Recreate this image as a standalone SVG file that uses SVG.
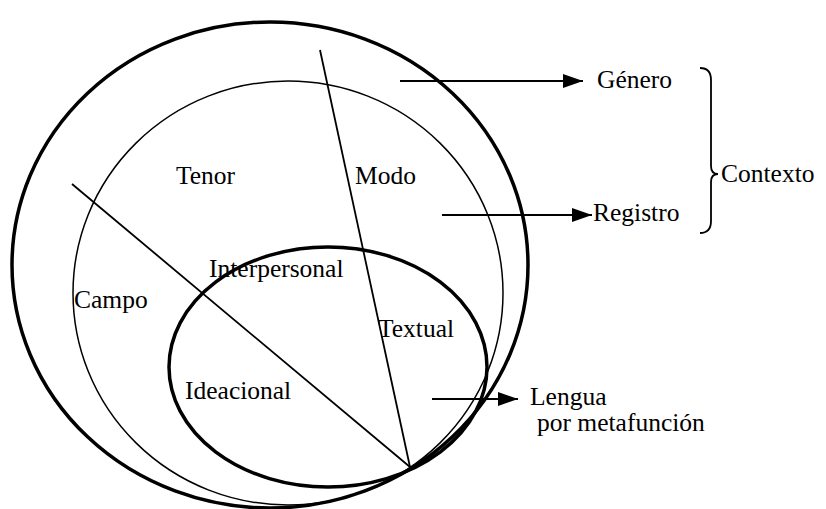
<svg xmlns="http://www.w3.org/2000/svg" width="826" height="509" viewBox="0 0 826 509">
<defs>
<style>
.thick{fill:none;stroke:#000;stroke-width:3.5}
.thin{fill:none;stroke:#000;stroke-width:1.5}
.ln{fill:none;stroke:#000;stroke-width:1.8}
.arr{fill:none;stroke:#000;stroke-width:2.2}
.t{font-family:'Liberation Serif','Times New Roman',serif;font-size:25.5px;fill:#000}
</style>
<marker id="ah" markerUnits="userSpaceOnUse" markerWidth="22" markerHeight="16" refX="20" refY="8" orient="auto">
<path d="M0,1 L20,8 L0,15 Z" fill="#000"/>
</marker>
</defs>
<g id="outer"><ellipse class="thick" cx="270" cy="265" rx="258" ry="243"/></g>
<g id="middle"><ellipse class="thin" cx="288" cy="293" rx="215" ry="212"/></g>
<g id="inner"><ellipse class="thick" cx="328" cy="367" rx="159" ry="120"/></g>
<g id="connectors">
<line class="ln" x1="72" y1="184" x2="410" y2="467"/>
<line class="ln" x1="320" y1="50" x2="410" y2="467"/>
<line class="arr" x1="400" y1="81" x2="583" y2="81" marker-end="url(#ah)"/>
<line class="arr" x1="442" y1="215" x2="592" y2="215" marker-end="url(#ah)"/>
<line class="arr" x1="432" y1="399" x2="518" y2="399" marker-end="url(#ah)"/>
<path class="ln" d="M700,68 Q711,68 711,80 L711,166 Q711,174 718,174 Q711,174 711,182 L711,221 Q711,233 700,233"/>
</g>
<g id="labels">
<text class="t" x="597" y="88">Género</text>
<text class="t" x="593" y="221">Registro</text>
<text class="t" x="721" y="182">Contexto</text>
<text class="t" x="176" y="184">Tenor</text>
<text class="t" x="355" y="184">Modo</text>
<text class="t" x="209" y="277">Interpersonal</text>
<text class="t" x="74" y="308">Campo</text>
<text class="t" x="378" y="337">Textual</text>
<text class="t" x="185" y="399">Ideacional</text>
<text class="t" x="530" y="405">Lengua</text>
<text class="t" x="537" y="431">por metafunción</text>
</g>
</svg>
